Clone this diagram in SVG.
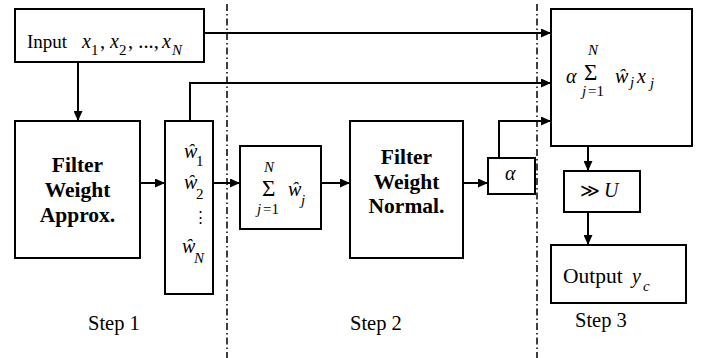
<svg xmlns="http://www.w3.org/2000/svg" width="705" height="358" viewBox="0 0 705 358" font-family="Liberation Serif, DejaVu Serif, serif">
  <style>
    .box { fill: #fff; stroke: #000; stroke-width: 2; }
    .wire { fill: none; stroke: #000; stroke-width: 2; }
    .sep { fill: none; stroke: #000; stroke-width: 1.5; stroke-dasharray: 7 3 1.5 3; }
    .t { font-family: 'Liberation Serif', 'DejaVu Serif', serif; fill: #000; }
    .lbl { font-size: 20.5px; }
    .bold { font-size: 21.5px; font-weight: bold; text-anchor: middle; }
    .m { font-style: italic; font-size: 20px; }
    .sub { font-size: 15px; }
    .subi { font-size: 15px; font-style: italic; }
    .sig { font-size: 23px; }
    .sym { font-family: 'DejaVu Serif', serif; }
  </style>
  <defs>
    <marker id="arr" markerWidth="10" markerHeight="9" refX="10" refY="4.5" orient="auto" markerUnits="userSpaceOnUse">
      <path d="M0,0 L10,4.5 L0,9 z" fill="#000"/>
    </marker>
  </defs>

  <!-- step separators -->
  <g id="separators">
    <line class="sep" x1="227" y1="4" x2="227" y2="358"/>
    <line class="sep" x1="537" y1="4" x2="537" y2="358"/>
  </g>

  <g id="input" class="t">
    <rect class="box" x="15" y="9" width="189" height="53"/>
    <text class="lbl" x="27" y="48" style="font-size:19px">Input</text>
    <text class="m" x="82" y="48">x</text>
    <text class="sub" x="91" y="55">1</text>
    <text class="lbl" x="100" y="48">,</text>
    <text class="m" x="110" y="48">x</text>
    <text class="sub" x="119" y="55">2</text>
    <text class="lbl" x="128" y="48">, ...,</text>
    <text class="m" x="162" y="48">x</text>
    <text class="subi" x="172" y="55">N</text>
  </g>

  <g id="approx" class="t">
    <rect class="box" x="15" y="121" width="125" height="137"/>
    <text class="bold" x="77.5" y="172">Filter</text>
    <text class="bold" x="77.5" y="197">Weight</text>
    <text class="bold" x="77.5" y="222">Approx.</text>
  </g>

  <g id="weights" class="t">
    <rect class="box" x="165" y="121" width="48" height="173"/>
    <text class="m" x="184" y="158">ŵ</text>
    <text class="sub" x="196" y="166">1</text>
    <text class="m" x="184" y="189">ŵ</text>
    <text class="sub" x="196" y="199">2</text>
    <text class="sym" x="193" y="222" style="font-size:15px">⋮</text>
    <text class="m" x="182" y="253">ŵ</text>
    <text class="subi" x="194" y="263">N</text>
  </g>

  <g id="sum" class="t">
    <rect class="box" x="240" y="146" width="81" height="83"/>
    <text class="subi" x="264" y="172">N</text>
    <text class="sig" x="262" y="196">Σ</text>
    <text class="subi" x="257" y="214">j</text>
    <text class="sub" x="263" y="214">=1</text>
    <text class="m" x="288" y="196">ŵ</text>
    <text class="subi" x="301" y="205">j</text>
  </g>

  <g id="normal" class="t">
    <rect class="box" x="350" y="121" width="113" height="137"/>
    <text class="bold" x="406.5" y="164">Filter</text>
    <text class="bold" x="406.5" y="189">Weight</text>
    <text class="bold" x="406.5" y="213">Normal.</text>
  </g>

  <g id="alpha" class="t">
    <rect class="box" x="488" y="158" width="47" height="36"/>
    <text class="m" x="505" y="180">α</text>
  </g>

  <g id="weighted-sum" class="t">
    <rect class="box" x="551" y="9" width="141" height="137"/>
    <text class="m" x="566" y="83">α</text>
    <text class="subi" x="588" y="55">N</text>
    <text class="sig" x="584" y="80">Σ</text>
    <text class="subi" x="582" y="96">j</text>
    <text class="sub" x="588" y="96">=1</text>
    <text class="m" x="615" y="83">ŵ</text>
    <text class="subi" x="630" y="87">j</text>
    <text class="m" x="637" y="83">x</text>
    <text class="subi" x="650" y="88">j</text>
  </g>

  <g id="shift" class="t">
    <rect class="box" x="564" y="171" width="76" height="41"/>
    <text class="sym" x="580" y="197" style="font-size:19px">≫</text>
    <text class="m" x="604" y="197">U</text>
  </g>

  <g id="output" class="t">
    <rect class="box" x="551" y="245" width="135" height="58"/>
    <text class="lbl" x="563" y="283" style="font-size:21.5px">Output</text>
    <text class="m" x="632" y="283">y</text>
    <text class="subi" x="643" y="291">c</text>
  </g>

  <g id="step-labels" class="t">
    <text class="lbl" x="88" y="330">Step 1</text>
    <text class="lbl" x="350" y="330">Step 2</text>
    <text class="lbl" x="575" y="327">Step 3</text>
  </g>

  <g id="connectors">
    <path class="wire" d="M78,62 V121" marker-end="url(#arr)"/>
    <path class="wire" d="M140,183 H165" marker-end="url(#arr)"/>
    <path class="wire" d="M213,183 H240" marker-end="url(#arr)"/>
    <path class="wire" d="M321,183 H350" marker-end="url(#arr)"/>
    <path class="wire" d="M463,183 H488" marker-end="url(#arr)"/>
    <path class="wire" d="M203,33 H551" marker-end="url(#arr)"/>
    <path class="wire" d="M190,121 V83 H551" marker-end="url(#arr)"/>
    <path class="wire" d="M499,158 V121 H551" marker-end="url(#arr)"/>
    <path class="wire" d="M588,146 V171" marker-end="url(#arr)"/>
    <path class="wire" d="M588,212 V245" marker-end="url(#arr)"/>
  </g>
</svg>
